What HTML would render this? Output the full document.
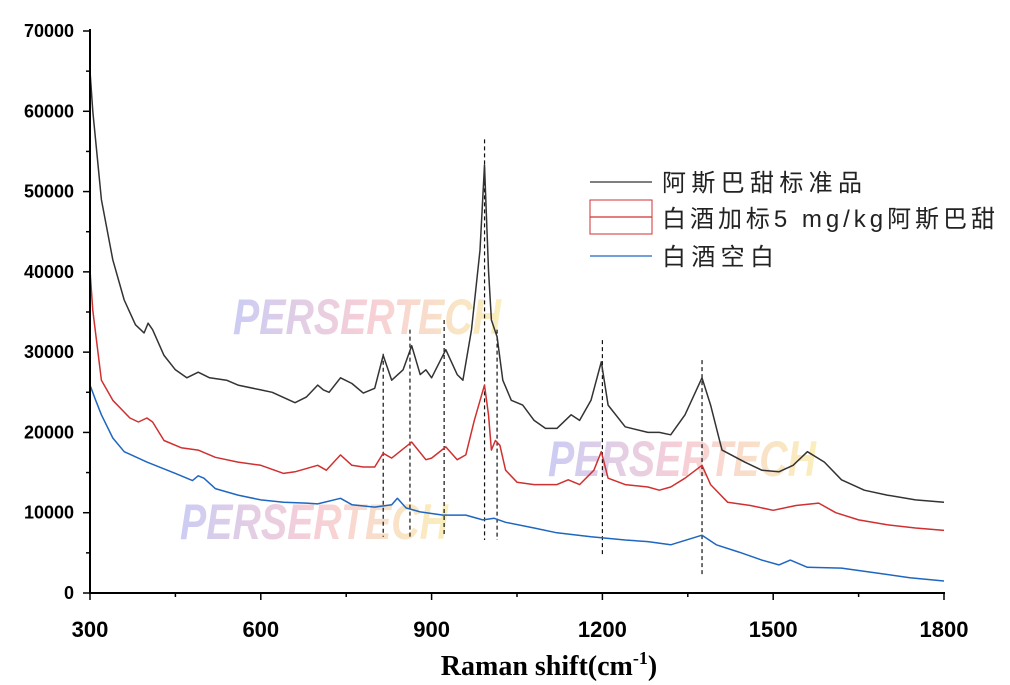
<!DOCTYPE html>
<html><head><meta charset="utf-8"><style>
body{margin:0;background:#fff}
svg{display:block}
.tk{font-family:"Liberation Sans",sans-serif;font-weight:bold;fill:#000}
</style></head><body>
<svg id="c" width="1010" height="685">
<defs>
<linearGradient id="wg" x1="0" x2="1" y1="0" y2="0">
<stop offset="0" stop-color="#9b9bea"/><stop offset="0.5" stop-color="#f0a0b0"/><stop offset="1" stop-color="#f7e07a"/>
</linearGradient>
</defs>
<g id="wm" opacity="0.5" font-family="Liberation Sans,sans-serif" font-weight="bold" font-style="italic" font-size="50" fill="url(#wg)">
<text x="233" y="334" textLength="268" lengthAdjust="spacingAndGlyphs">PERSERTECH</text>
<text x="548" y="476" textLength="268" lengthAdjust="spacingAndGlyphs">PERSERTECH</text>
<text x="180" y="539" textLength="268" lengthAdjust="spacingAndGlyphs">PERSERTECH</text>
</g>
<g id="plot"></g>
<g font-family="Liberation Sans,'Noto Sans CJK SC',sans-serif" font-size="24" fill="#222">
<line x1="590" y1="182" x2="652" y2="182" stroke="#333" stroke-width="1.3"/>
<text x="662" y="191" textLength="200" lengthAdjust="spacing">阿斯巴甜标准品</text>
<rect x="590" y="200" width="62" height="34" fill="none" stroke="#d03030" stroke-width="1"/>
<line x1="590" y1="217" x2="652" y2="217" stroke="#d03030" stroke-width="1.3"/>
<text x="662" y="227" textLength="333" lengthAdjust="spacing">白酒加标5 mg/kg阿斯巴甜</text>
<line x1="590" y1="256" x2="652" y2="256" stroke="#1f66c0" stroke-width="1.3"/>
<text x="662" y="265" textLength="112" lengthAdjust="spacing">白酒空白</text>
</g>
<text x="549" y="675" text-anchor="middle" font-family="Liberation Serif,serif" font-weight="bold" font-size="28">Raman shift(cm<tspan font-size="18" dy="-11">-1</tspan><tspan dy="11">)</tspan></text>
</svg>
<script>
const xsBlack=[300,305,320,340,360,380,395,402,410,430,450,470,490,510,540,560,600,620,660,680,700,710,720,740,760,780,800,815,830,850,865,880,890,900,925,945,955,970,985,993,1000,1005,1015,1025,1040,1060,1080,1100,1120,1145,1160,1180,1198,1210,1240,1280,1300,1320,1345,1375,1390,1410,1450,1480,1510,1535,1560,1590,1620,1660,1700,1750,1800];
const ysBlack=[65000,60000,49000,41500,36500,33400,32400,33600,32800,29600,27800,26800,27500,26800,26500,25900,25300,25000,23700,24400,25900,25300,25000,26800,26100,24900,25500,29600,26500,27800,30800,27200,27800,26800,30300,27200,26500,32800,42700,53300,40200,34000,31900,26500,24000,23400,21500,20500,20500,22200,21500,24000,28800,23400,20700,20000,20000,19700,22200,26800,23400,17800,16300,15300,15100,15900,17600,16300,14100,12800,12200,11600,11300];
const xsRed=[300,305,320,340,370,385,400,410,430,460,490,520,560,600,640,660,700,715,740,760,780,800,815,830,865,890,900,925,945,960,975,993,1000,1005,1012,1020,1030,1050,1080,1120,1140,1160,1185,1198,1210,1240,1280,1300,1320,1345,1375,1390,1420,1460,1500,1540,1580,1610,1650,1700,1750,1800];
const ysRed=[40200,35200,26500,24000,21800,21300,21800,21300,19000,18100,17800,16900,16300,15900,14900,15100,15900,15300,17200,15900,15700,15700,17400,16800,18800,16600,16800,18200,16600,17200,21500,25900,22200,17800,19000,18400,15300,13800,13500,13500,14100,13500,15300,17600,14300,13500,13200,12800,13200,14300,15900,13500,11300,10900,10300,10900,11200,10000,9100,8500,8100,7800];
const xsBlue=[300,310,320,340,360,400,450,480,490,500,520,560,600,640,680,700,740,760,800,830,840,855,880,920,960,990,1010,1030,1080,1120,1180,1240,1280,1320,1375,1400,1440,1480,1510,1530,1560,1620,1680,1740,1800];
const ysBlue=[25900,24000,22200,19300,17600,16300,14900,14000,14600,14300,13000,12200,11600,11300,11200,11100,11800,11000,10700,11000,11800,10600,10100,9700,9700,9100,9300,8800,8100,7500,7000,6600,6400,6000,7200,6000,5100,4100,3500,4100,3200,3100,2500,1900,1500];
const peakMarks=[815,862,922,993,1015,1200,1375];
const peakTop=[29800,32800,34000,56500,32800,31500,29000];
const peakBottom=[7000,7000,7000,6600,6600,4700,2200];
const xTicks=[300,600,900,1200,1500,1800];
const yTicks=[0,10000,20000,30000,40000,50000,60000,70000];
const X0=90,X1=944,Y0=593,Y1=31;
const sx=v=>X0+(v-300)/1500*(X1-X0);
const sy=v=>Y0-v/70000*(Y0-Y1);
const NS="http://www.w3.org/2000/svg";
const g=document.getElementById('plot');
function mk(t,a){const e=document.createElementNS(NS,t);for(const k in a)e.setAttribute(k,a[k]);g.appendChild(e);return e;}
peakMarks.forEach((p,i)=>{const e=mk('line',{x1:sx(p),x2:sx(p),y1:sy(peakTop[i]),y2:sy(peakBottom[i]),stroke:'#111','stroke-width':1.2,'stroke-dasharray':'4,3'});

});
function series(xs,ys,col,name){const d=xs.map((x,i)=>(i?'L':'M')+sx(x).toFixed(1)+','+sy(ys[i]).toFixed(1)).join('');
const e=mk('path',{d:d,fill:'none',stroke:col,'stroke-width':1.5,'stroke-linejoin':'round'});

}
series(xsBlue,ysBlue,'#1f66c0','series-blank');
series(xsRed,ysRed,'#d03030','series-spiked');
series(xsBlack,ysBlack,'#333','series-standard');
let a=mk('line',{x1:X0,x2:X0,y1:Y1-2,y2:Y0+1,stroke:'#000','stroke-width':2});


a=mk('line',{x1:X0-1,x2:X1+1,y1:Y0,y2:Y0,stroke:'#000','stroke-width':2});


for(let v=0;v<=70000;v+=5000){const major=v%10000===0;mk('line',{x1:X0-(major?7:4),x2:X0,y1:sy(v),y2:sy(v),stroke:'#000','stroke-width':1.5});}
for(let v=300;v<=1800;v+=150){const major=(v-300)%300===0;mk('line',{x1:sx(v),x2:sx(v),y1:Y0,y2:Y0+(major?7:4),stroke:'#000','stroke-width':1.5});}
yTicks.forEach(v=>{const t=mk('text',{x:74,y:sy(v)+6,'text-anchor':'end','font-size':18,class:'tk'});t.textContent=v;

});
xTicks.forEach(v=>{const t=mk('text',{x:sx(v),y:637,'text-anchor':'middle','font-size':22,class:'tk'});t.textContent=v;

});
</script>
</body></html>
